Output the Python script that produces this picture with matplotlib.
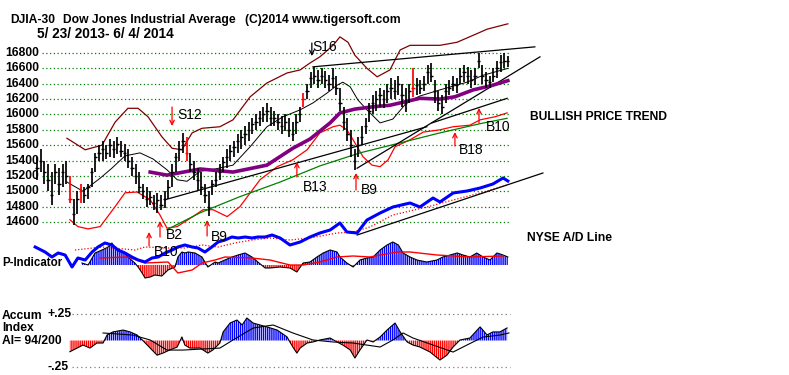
"""
Redraw of the TigerSoft DJIA-30 chart (5/23/2013 - 6/4/2014) with the
NYSE A/D line, P-Indicator and Accumulation Index panels underneath.

Run:
    python3 plot.py
"""

import matplotlib

matplotlib.use("Agg")
import matplotlib.pyplot as plt

W, H = 789, 375
FONT = ["Liberation Sans", "DejaVu Sans"]

# ---- price bars (one bar per two trading days) ----------------------------
BAR_HIGH = [
    15450, 15550, 15400, 15350, 15250, 15350, 15300, 15350, 15400, 15200,
    14900, 15000, 15100, 15050, 15100, 15300, 15500, 15600, 15650, 15600,
    15680, 15650, 15700, 15660, 15620, 15550, 15450, 15350, 15250, 15100,
    15050, 15000, 14950, 14980, 14950, 15000, 15150, 15350, 15500, 15650,
    15760, 15700, 15500, 15400, 15300, 15250, 15100, 15000, 15150, 15250,
    15350, 15450, 15550, 15600, 15650, 15750, 15800, 15850, 15900, 15950,
    16000, 16050, 16100, 16150, 16100, 16050, 16000, 15980, 16000, 15950,
    15900, 16000, 16100, 16280, 16400, 16550, 16620, 16580, 16600, 16560,
    16520, 16600, 16500, 16350, 16100, 15950, 15800, 15550, 15700, 15850,
    15950, 16150, 16250, 16300, 16350, 16320, 16400, 16480, 16450, 16500,
    16400, 16350, 16400, 16600, 16480, 16450, 16500, 16650, 16670, 16450,
    16300, 16250, 16400, 16450, 16500, 16480, 16600, 16650, 16620, 16580,
    16600, 16800, 16650, 16550, 16500, 16600, 16700, 16780, 16800, 16760,
]
BAR_LOW = [
    15150, 15250, 15100, 15000, 14820, 15100, 14950, 15050, 15100, 14850,
    14560, 14700, 14850, 14850, 14900, 15050, 15250, 15400, 15400, 15420,
    15450, 15430, 15480, 15450, 15400, 15300, 15200, 15100, 14980, 14900,
    14800, 14820, 14750, 14720, 14750, 14780, 14900, 15050, 15250, 15400,
    15500, 15400, 15250, 15150, 15000, 14950, 14850, 14680, 14950, 15050,
    15150, 15250, 15300, 15400, 15450, 15500, 15550, 15600, 15650, 15750,
    15800, 15850, 15900, 15900, 15850, 15850, 15800, 15750, 15780, 15700,
    15650, 15750, 15900, 16100, 16200, 16350, 16400, 16350, 16400, 16350,
    16300, 16350, 16250, 16050, 15800, 15650, 15450, 15280, 15450, 15600,
    15750, 15900, 16000, 16050, 16100, 16080, 16150, 16200, 16200, 16250,
    16100, 16030, 16150, 16230, 16250, 16270, 16300, 16400, 16420, 16150,
    16050, 16000, 16150, 16250, 16300, 16280, 16400, 16420, 16400, 16350,
    16380, 16600, 16400, 16350, 16350, 16420, 16480, 16550, 16600, 16620,
]
BAR_CLOSE = [
    15300, 15400, 15250, 15150, 14950, 15250, 15100, 15250, 15200, 14900,
    14700, 14900, 15000, 14950, 15050, 15250, 15450, 15500, 15550, 15500,
    15600, 15550, 15620, 15520, 15500, 15400, 15300, 15200, 15050, 15000,
    14900, 14920, 14850, 14880, 14820, 14900, 15050, 15250, 15450, 15550,
    15650, 15500, 15350, 15250, 15150, 15050, 14950, 14800, 15100, 15150,
    15250, 15380, 15450, 15520, 15580, 15650, 15700, 15750, 15800, 15880,
    15900, 15950, 16000, 16050, 15950, 15950, 15900, 15850, 15900, 15800,
    15750, 15900, 16000, 16200, 16300, 16480, 16500, 16450, 16500, 16450,
    16400, 16480, 16350, 16150, 15900, 15750, 15600, 15400, 15600, 15700,
    15850, 16050, 16150, 16200, 16250, 16200, 16300, 16350, 16300, 16400,
    16250, 16150, 16300, 16350, 16380, 16350, 16400, 16550, 16500, 16300,
    16150, 16100, 16300, 16350, 16400, 16380, 16500, 16550, 16500, 16450,
    16500, 16700, 16500, 16450, 16420, 16500, 16600, 16680, 16700, 16700,
]
RED_BARS = [9, 12, 41, 73, 103]

PRICE_TICKS = [16800, 16600, 16400, 16200, 16000, 15800, 15600,
               15400, 15200, 15000, 14800, 14600]

# ---- overlays on the price panel: (bar index, price) ----------------------
UPPER_X = [8.2, 13.2, 17.8, 21.4, 24.9, 27.7, 30.4, 34.2, 37.0, 39.7, 42.5,
           45.2, 50.1, 53.7, 58.4, 63.0, 68.5, 72.1, 74.8, 77.5, 81.1, 83.0,
           85.2, 87.1, 90.4, 93.2, 96.7, 99.5, 102.2, 110.4, 115.1, 121.4,
           123.3, 129.0]
UPPER_Y = [15690, 15540, 15600, 15900, 16080, 16080, 15970, 15710, 15560,
           15540, 15760, 15820, 15840, 15930, 16230, 16410, 16540, 16580,
           16670, 16750, 16900, 17010, 16940, 16770, 16600, 16490, 16580,
           16840, 16900, 16900, 16940, 17070, 17110, 17180]

LOWER_X = [9.0, 11.2, 14.0, 17.3, 21.4, 24.1, 27.4, 31.0, 33.7, 35.6, 38.4,
           42.7, 45.5, 48.2, 52.1, 55.6, 61.1, 65.8, 70.1, 74.0, 77.5, 81.1,
           83.0, 84.9, 86.6, 89.3, 91.8, 94.0, 96.2, 98.1, 102.2, 105.8,
           110.4, 114.0, 118.6, 121.4, 125.5, 128.8]
LOWER_Y = [14630, 14540, 14510, 14540, 14800, 14980, 14990, 14890, 14690,
           14520, 14540, 14670, 14760, 14760, 14670, 14800, 15150, 15320,
           15410, 15540, 15760, 15840, 15860, 15800, 15670, 15450, 15340,
           15320, 15410, 15580, 15670, 15770, 15800, 15840, 15860, 15930,
           15970, 16020]

MA21_X = [8.2, 12.6, 17.3, 20.5, 24.1, 28.2, 31.8, 35.6, 38.4, 41.1, 44.7,
          48.8, 53.7, 58.4, 63.0, 67.4, 72.1, 75.6, 79.5, 82.2, 83.8, 85.8,
          87.9, 90.4, 94.0, 97.5, 101.4, 104.9, 110.4, 117.8, 122.2, 129.0]
MA21_Y = [15120, 15000, 15170, 15300, 15460, 15500, 15420, 15280, 15150,
          15130, 15260, 15290, 15340, 15580, 15840, 15970, 16060, 16150,
          16280, 16380, 16420, 16360, 16190, 16060, 15890, 15940, 16160,
          16240, 16320, 16420, 16510, 16600]

MA65_X = [31.0, 35.6, 44.7, 53.7, 63.0, 70.1, 74.8, 80.3, 83.0, 87.1, 92.1,
          96.7, 104.9, 110.4, 114.5, 119.5, 124.1, 129.0]
MA65_Y = [15250, 15210, 15290, 15250, 15340, 15560, 15680, 15890, 16020,
          16070, 16100, 16120, 16210, 16200, 16230, 16320, 16370, 16440]

MA200_X = [35.6, 44.7, 55.6, 66.6, 77.5, 88.5, 99.5, 110.4, 121.4, 128.8]
MA200_Y = [14500, 14720, 14930, 15120, 15330, 15500, 15630, 15760, 15880,
           15950]

# straight trend lines: (x0, y0, x1, y1)
TRENDLINES = [
    (75.6, 16620, 136.4, 16880),
    (35.1, 14890, 106.8, 15840),
    (87.7, 15300, 137.8, 16750),
    (108.2, 15890, 128.8, 16210),
]

# signals: label, bar index, arrow tail price, arrow head price, label px
SIGNALS = [
    ("S16", 75.3, 16930, 16760, (325, 47), "black"),
    ("S12", 37.0, 16097, 15850, (190, 115), "red"),
    ("B13", 71.2, 15186, 15381, (315, 187), "red"),
    ("B9", 87.4, 15016, 15238, (369, 190), "red"),
    ("B9", 46.6, 14417, 14626, (219, 237), "red"),
    ("B2", 33.7, 14404, 14613, (174, 235), "red"),
    ("B10", 30.7, 14287, 14470, (166, 252), "red"),
    ("B18", 114.5, 15589, 15771, (471, 150), "red"),
    ("B10", 121.1, 15889, 16084, (498, 127), "red"),
]

# ---- NYSE A/D line (relative level) ---------------------------------------
AD_X = [-0.5, 2.2, 4.1, 5.8, 7.7, 9.6, 11.2, 13.2, 15.1, 16.7, 18.6, 20.5,
        22.2, 24.1, 26.0, 27.7, 29.6, 31.5, 33.2, 35.1, 37.0, 38.6, 40.5,
        42.5, 44.1, 46.0, 47.9, 49.6, 51.5, 53.4, 55.1, 57.0, 58.9, 60.5,
        62.5, 64.4, 66.6, 69.3, 72.1, 74.8, 77.5, 80.3, 83.0, 84.9, 87.7,
        90.4, 94.0, 97.5, 102.2, 104.9, 108.5, 110.4, 114.0, 117.8, 121.4,
        124.9, 127.7, 129.0]
AD_Y = [23, 18, 13, 17, 15, 3, 12, 10, 18, 23, 27, 25, 20, 17, 13, 10, 8,
        12, 13, 17, 20, 23, 25, 23, 22, 18, 23, 28, 30, 33, 32, 33, 32, 33,
        33, 35, 32, 25, 28, 33, 37, 40, 47, 38, 37, 50, 57, 63, 67, 63, 72,
        68, 77, 79, 82, 86, 92, 89]
AD_MA_X = [10.4, 17.8, 26.8, 29.6, 35.9, 40.5, 45.2, 49.6, 54.2, 58.9, 63.8,
           69.3, 74.8, 82.2, 86.6, 91.2, 97.5, 106.8, 114.0, 121.4, 128.8]
AD_MA_Y = [20, 23, 20, 23, 22, 22, 25, 23, 27, 30, 32, 30, 32, 37, 38, 43,
           55, 63, 70, 77, 85]
AD_TREND = (87.7, 35, 138.6, 97)

# ---- P-Indicator -----------------------------------------------------------
PI_X = [12.3, 14.0, 15.9, 17.8, 19.5, 20.5, 21.4, 23.3, 24.1, 24.9, 26.8,
        27.7, 28.8, 29.6, 31.0, 32.3, 34.2, 35.9, 37.8, 38.6, 39.7, 40.5,
        41.4, 43.3, 45.2, 46.8, 48.8, 49.6, 51.5, 53.4, 55.1, 57.0, 58.9,
        60.5, 62.5, 63.8, 66.6, 69.3, 71.2, 72.9, 74.8, 76.7, 78.4, 80.3,
        82.2, 83.0, 84.9, 86.6, 88.5, 90.4, 92.1, 94.0, 95.9, 97.5, 99.0,
        100.3, 102.2, 104.1, 106.8, 109.6, 111.2, 113.2, 115.1, 116.7,
        118.6, 120.5, 122.2, 124.1, 126.0, 127.7, 129.0]
PI_Y = [20, 0, 120, 150, 180, 220, 170, 130, 120, 80, 20, -20, -80, -130,
        -120, -100, -110, -50, -20, 80, 130, 120, 130, 120, 80, -20, 30, 20,
        50, 80, 100, 120, 80, 30, -30, -30, -20, -30, -70, 20, 30, 80, 120,
        150, 130, 80, 20, -20, 50, 70, 80, 150, 200, 230, 200, 120, 80, 50,
        30, 50, 80, 100, 120, 100, 80, 120, 80, 50, 120, 100, 80]
PI_MA_X = [17.3, 24.9, 29.6, 35.9, 38.6, 42.5, 45.2, 48.8, 51.5, 58.9, 63.8,
           69.3, 72.9, 77.5, 82.2, 86.6, 91.2, 98.6, 102.2, 109.6, 118.6,
           127.7]
PI_MA_Y = [70, 80, 20, 30, -80, -50, 20, 50, 80, 70, 50, 0, 0, 30, 80, 90,
           80, 130, 130, 100, 80, 90]

# ---- Accumulation Index ----------------------------------------------------
AI_X = [9.0, 11.0, 12.6, 14.5, 16.4, 18.1, 19.2, 20.8, 23.6, 25.5, 27.4,
        29.0, 31.0, 32.9, 34.5, 36.4, 38.4, 39.7, 40.5, 41.9, 44.7, 46.8,
        48.2, 50.1, 51.0, 52.9, 54.8, 56.2, 57.5, 59.2, 61.1, 63.0, 65.8,
        68.5, 70.1, 71.2, 72.1, 74.0, 75.6, 77.5, 80.3, 82.2, 83.8, 85.8,
        87.1, 88.5, 90.4, 92.1, 94.0, 95.9, 98.1, 99.5, 101.4, 103.0, 104.9,
        107.7, 110.4, 112.3, 114.0, 115.9, 118.6, 121.4, 123.3, 124.9,
        126.8, 128.8]
AI_Y = [-0.107, -0.072, -0.043, -0.072, -0.024, -0.024, 0.053, 0.082, 0.100,
        0.082, 0.053, 0.000, -0.072, -0.140, -0.120, -0.090, -0.062, 0.034,
        -0.043, -0.072, -0.072, -0.120, -0.090, -0.024, 0.082, 0.167, 0.196,
        0.148, 0.215, 0.167, 0.148, 0.130, 0.100, 0.034, -0.062, -0.120,
        -0.072, -0.024, -0.014, 0.005, 0.024, -0.014, -0.043, -0.090,
        -0.167, -0.090, 0.005, -0.014, 0.034, 0.100, 0.167, 0.082, -0.014,
        -0.043, -0.062, -0.110, -0.186, -0.140, -0.062, 0.005, 0.024, 0.130,
        0.053, 0.082, 0.082, 0.120]
AI_MA_X = [18.1, 26.3, 31.0, 35.6, 40.0, 50.1, 53.7, 59.2, 64.7, 70.1, 75.6,
           81.1, 86.6, 94.0, 97.5, 100.3, 103.0, 108.5, 114.0, 117.8, 122.2,
           126.8, 129.3]
AI_MA_Y = [0.072, 0.052, 0.005, -0.091, -0.091, -0.072, 0.005, 0.119, 0.148,
           0.072, 0.005, -0.014, -0.024, -0.062, 0.005, 0.072, 0.024, -0.043,
           -0.110, -0.043, 0.033, 0.052, 0.072]


def px(x, y):
    """pixel position in the picture -> figure fraction"""
    return x / W, 1 - y / H


def overlay_axes(fig, ylim):
    ax = fig.add_axes([0, 0, 1, 1])
    ax.set_xlim(-10.14, 206.03)
    ax.set_ylim(*ylim)
    ax.set_axis_off()
    ax.patch.set_visible(False)
    return ax


def hatched_histogram(ax, xs, ys):
    # blue above zero, red below, drawn as dense vertical hatching
    ax.fill_between(xs, 0, ys, where=[v >= 0 for v in ys], interpolate=True,
                    facecolor="none", edgecolor="#0000ff", hatch="|" * 8,
                    lw=0)
    ax.fill_between(xs, 0, ys, where=[v <= 0 for v in ys], interpolate=True,
                    facecolor="none", edgecolor="#ff0000", hatch="|" * 8,
                    lw=0)


def draw_price(fig):
    ax = overlay_axes(fig, (12608, 17490))
    ax.hlines(PRICE_TICKS, 1.4, 129.6, colors="#008000",
              linestyles=(0, (1, 2)), lw=0.9, zorder=1)
    for p in PRICE_TICKS:
        ax.text(0.6, p, str(p), ha="right", va="center", fontsize=8.7,
                weight="bold", family=FONT, zorder=1)

    ax.plot(UPPER_X, UPPER_Y, color="#800000", lw=0.9, zorder=3)
    ax.plot(LOWER_X, LOWER_Y, color="#ff0000", lw=0.9, zorder=3)
    ax.plot(MA200_X, MA200_Y, color="#008000", lw=0.9, zorder=3)
    ax.plot(MA21_X, MA21_Y, color="black", lw=0.7, zorder=3)
    for x0, y0, x1, y1 in TRENDLINES:
        ax.plot([x0, x1], [y0, y1], color="black", lw=0.9, zorder=3)
    ax.plot(MA65_X, MA65_Y, color="#800080", lw=2.6, zorder=4)

    idx = list(range(len(BAR_HIGH)))
    cols = ["#ff0000" if i in RED_BARS else "black" for i in idx]
    ax.vlines(idx, BAR_LOW, BAR_HIGH, colors=cols, lw=1.25, zorder=5)
    ax.hlines(BAR_CLOSE, [i - 0.45 for i in idx], [i + 0.45 for i in idx],
              colors=cols, lw=1.0, zorder=5)

    for label, xi, tail, head, (lx, ly), col in SIGNALS:
        ax.annotate("", xy=(xi, head), xytext=(xi, tail), zorder=6,
                    arrowprops=dict(arrowstyle="->", color=col, lw=0.9,
                                    mutation_scale=8, shrinkA=0, shrinkB=0))
        fig.text(*px(lx, ly), label, ha="center", va="center", fontsize=10,
                 family=FONT, color="black")


def draw_pindicator(fig):
    ax = overlay_axes(fig, (-1100, 2650))
    hatched_histogram(ax, PI_X, PI_Y)
    ax.plot(PI_X, PI_Y, color="black", lw=0.8)
    ax.plot(PI_MA_X, PI_MA_Y, color="#ff0000", lw=1.0)


def draw_ad(fig):
    ax = overlay_axes(fig, (-105, 270))
    ax.plot(AD_MA_X, AD_MA_Y, color="#ff0000", lw=0.9, ls=(0, (1, 1.5)))
    x0, y0, x1, y1 = AD_TREND
    ax.plot([x0, x1], [y0, y1], color="black", lw=0.9)
    ax.plot(AD_X, AD_Y, color="#0000ff", lw=2.2)


def draw_accum(fig):
    ax = overlay_axes(fig, (-0.329, 3.249))
    ax.hlines([0.25], 9.5, 129.6, colors="#777777", linestyles=(0, (1, 2.5)),
              lw=0.9)
    ax.hlines([-0.25], 9.5, 129.6, colors="#aa6699", linestyles=(0, (1, 2.5)),
              lw=0.9)
    hatched_histogram(ax, AI_X, AI_Y)
    ax.plot(AI_X, AI_Y, color="black", lw=0.8)
    ax.plot(AI_MA_X, AI_MA_Y, color="black", lw=0.8)


def draw_texts(fig):
    bold = dict(weight="bold", family=FONT, va="center", ha="left",
                fontsize=8.7)
    fig.text(*px(10, 20), "DJIA-30", **bold)
    fig.text(*px(63, 20), "Dow Jones Industrial Average", **bold)
    fig.text(*px(245, 20), "(C)2014 www.tigersoft.com", **bold)
    fig.text(*px(37, 34), "5/ 23/ 2013- 6/ 4/ 2014",
             **{**bold, "fontsize": 9.8})
    fig.text(*px(530, 117), "BULLISH PRICE TREND", **bold)
    fig.text(*px(527, 238), "NYSE A/D Line", **bold)
    fig.text(*px(2, 263), "P-Indicator", **{**bold, "fontsize": 8.3})
    fig.text(*px(2, 316), "Accum", **bold)
    fig.text(*px(2, 328), "Index", **bold)
    fig.text(*px(2, 341), "AI= 94/200", **bold)
    fig.text(*px(47, 314), "+.25", **bold)
    fig.text(*px(47, 367), "-.25", **bold)


def main():
    plt.rcParams["hatch.linewidth"] = 1.0
    fig = plt.figure(figsize=(W / 100, H / 100), dpi=100)
    fig.patch.set_facecolor("white")
    draw_price(fig)
    draw_accum(fig)
    draw_pindicator(fig)
    draw_ad(fig)
    draw_texts(fig)
    fig.savefig("out.png", dpi=100)


if __name__ == "__main__":
    main()
